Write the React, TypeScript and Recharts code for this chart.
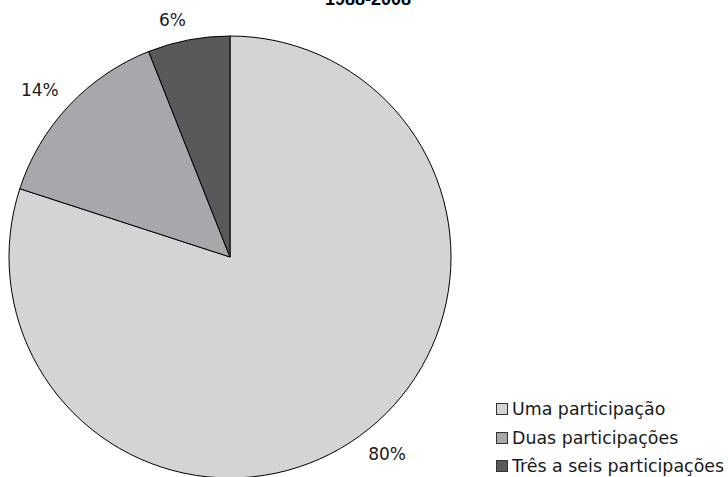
import React from "react";
import { PieChart, Pie, Cell, Legend } from "recharts";

const categories = ["Uma participação", "Duas participações", "Três a seis participações"];
const shares = [80, 14, 6];
const colors = ["#d3d4d6", "#a7a8ab", "#58595b"];
const title = "1988-2008";

const data = categories.map((name, i) => ({ name, value: shares[i] }));

const RAD = Math.PI / 180;
const FONT = "'DejaVu Sans', Verdana, sans-serif";
const LABEL_SIZE = 17;

// Label sits just outside the slice, with its nearest corner touching the anchor point
const renderLabel = (props: any) => {
  const { cx, cy, outerRadius, midAngle, value } = props;
  const r = outerRadius + 14;
  const cos = Math.cos(-midAngle * RAD);
  const sin = Math.sin(-midAngle * RAD);
  const x = cx + r * cos;
  const y = cy + r * sin;
  const anchor = cos >= 0 ? "start" : "end";
  const baseline = sin < 0 ? y : y + LABEL_SIZE * 0.73;
  return (
    <text
      x={x}
      y={baseline}
      textAnchor={anchor}
      fontFamily={FONT}
      fontSize={LABEL_SIZE}
      fill="#1a1a1a"
    >
      {`${value}%`}
    </text>
  );
};

const LegendContent = () => (
  <div style={{ fontFamily: FONT, fontSize: 17.4, color: "#1a1a1a" }}>
    {categories.map((c, i) => (
      <div key={c} style={{ display: "flex", alignItems: "center", height: 28.5, whiteSpace: "nowrap" }}>
        <span
          style={{
            display: "inline-block",
            width: 10,
            height: 10,
            background: colors[i],
            border: "1px solid #333",
            marginRight: 4,
          }}
        />
        {c}
      </div>
    ))}
  </div>
);

export default function App() {
  return (
    <div style={{ position: "fixed", left: 0, top: 0, width: 728, height: 477, background: "#fff", overflow: "hidden" }}>
      <PieChart width={728} height={477} margin={{ top: 0, right: 0, bottom: 0, left: 0 }}>
        <text
          x={368}
          y={5}
          textAnchor="middle"
          fontFamily="'Liberation Sans', Arial, sans-serif"
          fontWeight="bold"
          fontSize={18}
          fill="#000"
        >
          {title}
        </text>
        <Pie
          data={data}
          dataKey="value"
          nameKey="name"
          cx={230}
          cy={257}
          outerRadius={221}
          startAngle={90}
          endAngle={-270}
          stroke="#000"
          strokeWidth={1}
          label={renderLabel}
          labelLine={false}
          isAnimationActive={false}
        >
          {data.map((d, i) => (
            <Cell key={d.name} fill={colors[i]} />
          ))}
        </Pie>
        <Legend
          content={<LegendContent />}
          wrapperStyle={{ position: "absolute", left: 496, top: 395, width: 240 }}
        />
      </PieChart>
    </div>
  );
}
